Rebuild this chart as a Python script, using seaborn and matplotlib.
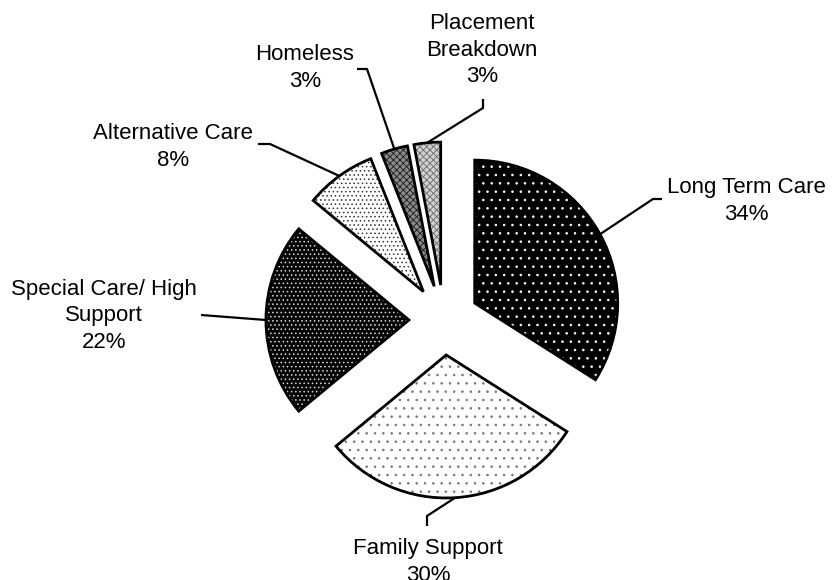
import numpy as np
import matplotlib
matplotlib.use("Agg")
import matplotlib.pyplot as plt
import seaborn as sns

# ---- data ----
categories = ["Long Term Care", "Family Support", "Special Care/ High\nSupport",
              "Alternative Care", "Homeless", "Placement\nBreakdown"]
percentages = [34, 30, 22, 8, 3, 3]

# ---- style ----
sns.set_theme(style="white")
plt.rcParams['font.family'] = ['Liberation Sans', 'DejaVu Sans']
plt.rcParams['hatch.linewidth'] = 0.6

face_colors = ["#000000", "#ffffff", "#050505", "#ffffff", "#8a8a8a", "#d0d0d0"]
hatch_colors = ["#ffffff", "#777777", "#d8d8d8", "#333333", "#1a1a1a", "#6a6a6a"]
hatches = ["..", "..", "....", "....", "xxxxx", "xxxxx"]

fig = plt.figure(figsize=(8.32, 5.80), dpi=100)
ax = fig.add_axes([0, 0, 1, 1])

# pixel -> data mapping (pie centre at pixel (444,320), radius 143 px)
CX, CY, R = 444.0, 320.0, 143.0
def P(px, py):
    return ((px - CX) / R, (CY - py) / R)

explode = [0.245] * len(percentages)

# fill layer (with hatch patterns)
fill_wedges, _ = ax.pie(percentages, startangle=90, counterclock=False,
                        explode=explode, radius=1,
                        wedgeprops=dict(linewidth=0))
for w, fc, hc, h in zip(fill_wedges, face_colors, hatch_colors, hatches):
    w.set_facecolor(fc)
    w.set_edgecolor(hc)
    w.set_hatch(h)
    w.set_linewidth(0)

# outline layer
edge_wedges, _ = ax.pie(percentages, startangle=90, counterclock=False,
                        explode=explode, radius=1,
                        wedgeprops=dict(facecolor="none", edgecolor="black",
                                        linewidth=2.0, joinstyle="miter"))

# label layout (pixel coordinates): text centre, leader elbow points
text_pos = [(746, 201), (428, 562), (104, 316), (173, 147), (305, 68), (482, 50)]
leader_pts = [
    [(653, 199), (662, 199)],
    [(427, 516), (427, 526)],
    [(201, 315)],
    [(270, 144), (258, 144)],
    [(367, 69), (357, 69)],
    [(483, 108), (483, 99)],
]

for w, cat, pct, tp, lp in zip(edge_wedges, categories, percentages, text_pos, leader_pts):
    mid = np.deg2rad((w.theta1 + w.theta2) / 2.0)
    cx, cy = w.center
    ax0 = cx + w.r * np.cos(mid)
    ay0 = cy + w.r * np.sin(mid)
    pts = [(ax0, ay0)] + [P(*p) for p in lp]
    xs, ys = zip(*pts)
    ax.plot(xs, ys, color="black", linewidth=1.6, solid_capstyle="butt")
    tx, ty = P(*tp)
    ax.text(tx, ty, f"{cat}\n{pct}%", ha="center", va="center",
            fontsize=16, linespacing=1.33, color="black")

ax.set_xlim(-CX / R, (832 - CX) / R)
ax.set_ylim(-(580 - CY) / R, CY / R)
ax.set_aspect("auto")
ax.axis("off")

fig.savefig("out.png", dpi=100, facecolor="white")
